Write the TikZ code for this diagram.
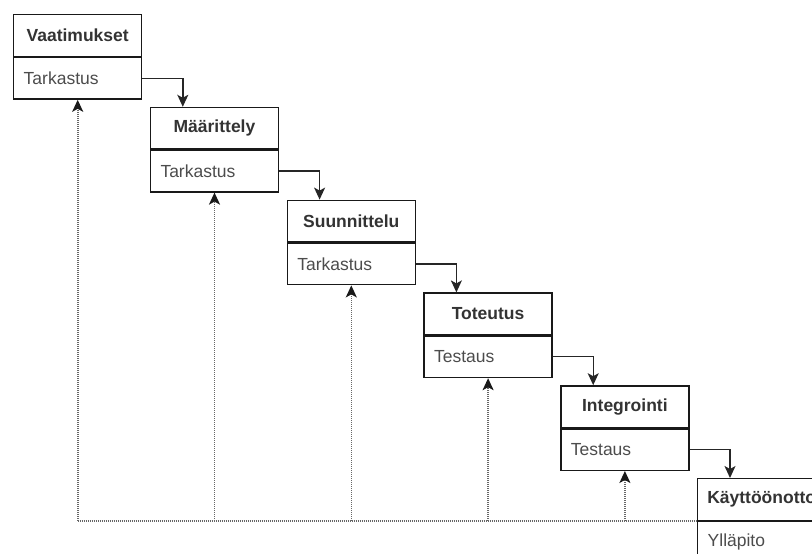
\documentclass[tikz,border=0pt]{standalone}
\usepackage{fontspec}
\setmainfont{Liberation Sans}
\usetikzlibrary{arrows.meta}

\tikzset{
  x=1pt, y=-1pt,
  head/.style={draw=black!90, line width=1.4pt, minimum width=128pt,
    minimum height=41.5pt, inner sep=0pt, anchor=north west,
    font=\bfseries\fontsize{17.5}{20}\selectfont, text=black!80},
  body/.style={draw=black!90, line width=1.4pt, text width=108pt,
    inner xsep=10pt, inner ysep=0pt, minimum height=41.5pt, align=left,
    anchor=north west, font=\fontsize{17.5}{20}\selectfont, text=black!70},
  flow/.style={draw=black!85, line width=1.4pt,
    -{Stealth[length=12pt,width=11pt,inset=3pt]}},
  back/.style={draw=black!60, line width=1.6pt,
    dash pattern=on 1pt off 1pt},
  backtip/.style={back, -{Stealth[length=12pt,width=11pt,inset=3pt,color=black!90]}}
}

\begin{document}
\begin{tikzpicture}
  \useasboundingbox (0,0) rectangle (812,554);
  \clip (0,0) rectangle (812,554);

  % phase boxes: bold heading on top, review/test activity below
  \foreach \i/\title/\task in {1/Vaatimukset/Tarkastus,
                               2/Määrittely/Tarkastus,
                               3/Suunnittelu/Tarkastus,
                               4/Toteutus/Testaus,
                               5/Integrointi/Testaus,
                               6/Käyttöönotto/Ylläpito} {
    \node[head] (h\i) at ({13+136.8*(\i-1)}, {14+92.8*(\i-1)}) {\title};
    \node[body] (l\i) at (h\i.south west) {\task};
  }

  % forward flow between consecutive phases
  \foreach \i/\j in {1/2,2/3,3/4,4/5,5/6}
    \draw[flow] (l\i.east) -| ([xshift=33pt]h\j.north west);

  % feedback line along the bottom and back up to each phase
  \foreach \i in {1,...,5}
    \coordinate (c\i) at (l\i.south |- l6.north);
  \draw[back] (c1) -- (l6.north west);
  \foreach \i in {1,...,5}
    \draw[backtip] (c\i) -- (l\i.south);
\end{tikzpicture}
\end{document}
